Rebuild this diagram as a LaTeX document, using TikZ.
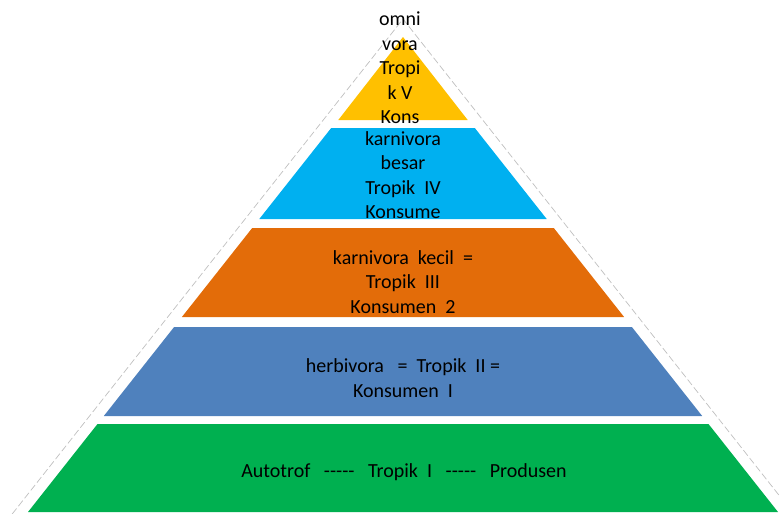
\documentclass[tikz,border=0pt]{standalone}
\usepackage{fontspec}
\setmainfont{Carlito}
\definecolor{ylw}{HTML}{FFC000}
\definecolor{cyn}{HTML}{00B0F0}
\definecolor{org}{HTML}{E36C09}
\definecolor{blu}{HTML}{4F81BD}
\definecolor{grn}{HTML}{00B050}
\definecolor{dashgray}{HTML}{BFBFBF}
\newcommand{\fivedash}{{-}{-}{-}{-}{-}}
\begin{document}
\begin{tikzpicture}[x=1pt,y=-1pt,
  lbl/.style={font=\fontsize{20}{24.5}\selectfont, align=center, inner sep=0pt, text=black},
  outline/.style={draw=dashgray, line width=0.7pt, dash pattern=on 7pt off 3pt}]
\useasboundingbox (0,0) rectangle (780,514);
% dashed outer triangle
\draw[outline] (12.2,514) -- (403,19) -- (780,496.5);
% yellow level
\fill[ylw] (403,37) -- (467.7,120) -- (338.3,120) -- cycle;
\begin{scope}
\clip (0,0) rectangle (780,123);
\node[lbl] (t5) at (400,68) {omni\\vora\\Tropi\\k V\\Kons};
\end{scope}
% cyan level
\fill[cyn] (331.2,128) -- (474.8,128) -- (546.7,219) -- (259.3,219) -- cycle;
\node[lbl] (t4) at (403,175) {karnivora\\besar\\Tropik~~IV\\Konsume};
% orange level
\fill[org] (252.2,228) -- (553.8,228) -- (624.1,317) -- (181.9,317) -- cycle;
\node[lbl] (t3) at (403,282) {karnivora~~kecil~~=\\Tropik~~III\\Konsumen~~2};
% blue level
\fill[blu] (174.1,327) -- (631.9,327) -- (702.2,416) -- (103.8,416) -- cycle;
\node[lbl] (t2) at (403,378) {herbivora~~~=~~Tropik~~II~=\\Konsumen~~I};
% green level
\fill[grn] (97.5,424) -- (708.5,424) -- (778,512) -- (28,512) -- cycle;
\node[lbl] (t1) at (404,472) {Autotrof~~~\fivedash~~~Tropik~~I~~~\fivedash~~~Produsen};
\end{tikzpicture}
\end{document}
